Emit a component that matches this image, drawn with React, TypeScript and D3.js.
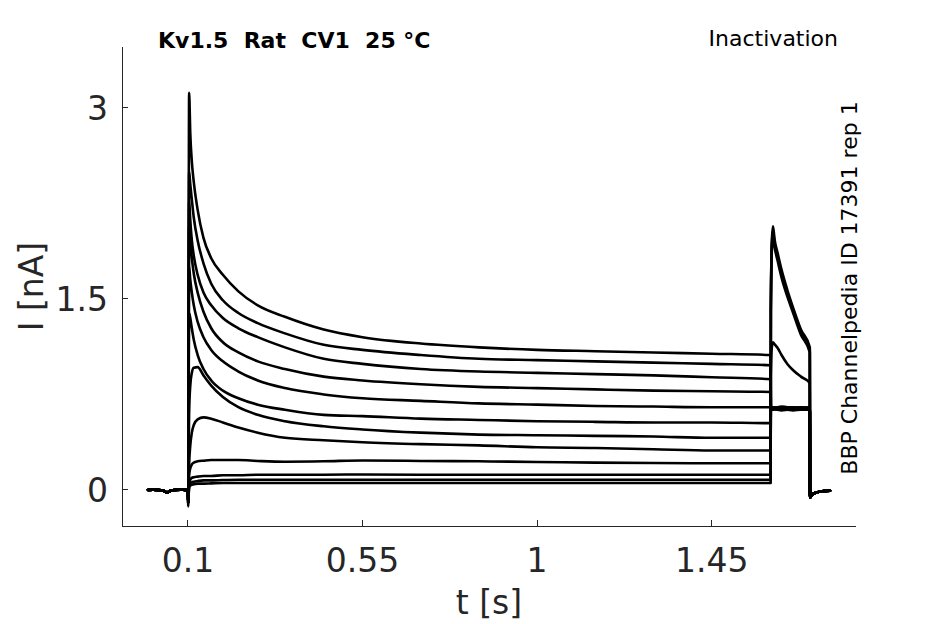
import React from "react";
import * as d3 from "d3";

// ---- time grids (s) ----
const PRE_T = [-0.003, 0.01, 0.03, 0.04, 0.046, 0.052, 0.065, 0.08, 0.095, 0.0995];
const PRE_I = [0, 0.003, -0.003, -0.01, -0.022, -0.01, 0, 0.003, 0, 0];

const STEP_T = [0.1, 0.1006, 0.103, 0.106, 0.11, 0.115, 0.125, 0.14, 0.16, 0.19, 0.23, 0.28, 0.35, 0.45, 0.55, 0.7, 0.85, 1.0, 1.15, 1.3, 1.45, 1.602];
const TEST_T = [1.6025, 1.605, 1.608, 1.612, 1.62, 1.63, 1.645, 1.66, 1.68, 1.703];
const TAIL_T = [1.7035, 1.704, 1.707, 1.712, 1.72, 1.735, 1.755];
const TAIL_I = [-0.06, -0.06, -0.045, -0.03, -0.02, -0.01, -0.005];

// ---- conditioning-step currents (nA), one array per sweep ----
const STEP_1 = [0, -0.13, 3.12, 2.8, 2.58, 2.42, 2.2, 1.98, 1.82, 1.69, 1.56, 1.45, 1.36, 1.26, 1.2, 1.15, 1.12, 1.1, 1.09, 1.08, 1.07, 1.06];
const STEP_2 = [0, -0.11, 2.5, 2.4, 2.28, 2.14, 1.96, 1.78, 1.62, 1.49, 1.39, 1.31, 1.23, 1.14, 1.1, 1.06, 1.03, 1.02, 1.01, 1.0, 0.99, 0.98];
const STEP_3 = [0, -0.1, 2.27, 2.12, 1.96, 1.84, 1.69, 1.55, 1.45, 1.35, 1.27, 1.2, 1.12, 1.03, 0.99, 0.95, 0.93, 0.92, 0.91, 0.9, 0.885, 0.87];
const STEP_4 = [0, -0.1, 2.07, 1.95, 1.82, 1.7, 1.55, 1.4, 1.27, 1.16, 1.08, 1.01, 0.95, 0.89, 0.86, 0.83, 0.81, 0.8, 0.79, 0.78, 0.775, 0.77];
const STEP_5 = [0, -0.1, 1.75, 1.65, 1.55, 1.45, 1.32, 1.2, 1.1, 1.01, 0.93, 0.86, 0.8, 0.75, 0.72, 0.7, 0.68, 0.67, 0.66, 0.655, 0.65, 0.65];
const STEP_6 = [0, -0.1, 1.39, 1.35, 1.27, 1.18, 1.06, 0.95, 0.86, 0.78, 0.72, 0.67, 0.63, 0.59, 0.58, 0.56, 0.55, 0.54, 0.535, 0.53, 0.53, 0.525];
const STEP_7 = [0, -0.1, 0.6, 0.82, 0.92, 0.96, 0.965, 0.9, 0.82, 0.73, 0.65, 0.59, 0.54, 0.5, 0.475, 0.45, 0.435, 0.43, 0.425, 0.42, 0.41, 0.41];
const STEP_8 = [0, -0.1, 0.2, 0.35, 0.45, 0.51, 0.555, 0.57, 0.56, 0.53, 0.49, 0.45, 0.41, 0.39, 0.375, 0.36, 0.35, 0.335, 0.33, 0.32, 0.31, 0.31];
const STEP_9 = [0, -0.1, 0.12, 0.17, 0.2, 0.215, 0.225, 0.23, 0.235, 0.235, 0.235, 0.228, 0.222, 0.225, 0.232, 0.228, 0.225, 0.22, 0.215, 0.212, 0.21, 0.21];
const STEP_10 = [0, -0.1, 0.05, 0.08, 0.095, 0.1, 0.105, 0.11, 0.11, 0.115, 0.115, 0.12, 0.12, 0.12, 0.122, 0.12, 0.12, 0.12, 0.12, 0.12, 0.12, 0.12];
const STEP_11 = [0, -0.1, 0.03, 0.05, 0.06, 0.065, 0.07, 0.075, 0.075, 0.078, 0.08, 0.08, 0.08, 0.08, 0.08, 0.08, 0.08, 0.08, 0.08, 0.08, 0.08, 0.08];
const STEP_12 = [0, -0.1, 0.02, 0.035, 0.04, 0.045, 0.05, 0.05, 0.052, 0.055, 0.055, 0.055, 0.055, 0.055, 0.055, 0.055, 0.055, 0.055, 0.055, 0.055, 0.055, 0.055];

// ---- test-pulse currents (nA) ----
const TEST_1 = [0.66, 0.64, 0.63, 0.635, 0.63, 0.635, 0.63, 0.625, 0.63, 0.63];
const TEST_2 = [0.66, 0.645, 0.645, 0.64, 0.645, 0.64, 0.645, 0.64, 0.645, 0.64];
const TEST_3 = [0.66, 0.64, 0.64, 0.645, 0.64, 0.64, 0.635, 0.64, 0.64, 0.64];
const TEST_4 = [0.66, 0.65, 0.65, 0.645, 0.65, 0.655, 0.65, 0.65, 0.645, 0.65];
const TEST_5 = [0.66, 0.635, 0.635, 0.64, 0.635, 0.63, 0.635, 0.64, 0.635, 0.635];
const TEST_6 = [0.66, 0.645, 0.645, 0.65, 0.645, 0.645, 0.64, 0.645, 0.65, 0.645];
const TEST_7 = [0.66, 0.64, 0.64, 0.635, 0.64, 0.645, 0.64, 0.635, 0.64, 0.64];
const TEST_8 = [0.66, 0.63, 0.63, 0.635, 0.63, 0.625, 0.63, 0.635, 0.63, 0.63];
const TEST_9 = [0.9, 1.12, 1.16, 1.145, 1.115, 1.06, 0.99, 0.94, 0.89, 0.84];
const TEST_10 = [1.4, 1.95, 2.07, 1.97, 1.86, 1.73, 1.57, 1.43, 1.26, 1.12];
const TEST_11 = [1.4, 1.92, 2.04, 1.94, 1.83, 1.7, 1.54, 1.41, 1.24, 1.1];
const TEST_12 = [1.4, 1.88, 2.0, 1.91, 1.8, 1.67, 1.52, 1.39, 1.22, 1.08];

const STEPS = [STEP_1, STEP_2, STEP_3, STEP_4, STEP_5, STEP_6, STEP_7, STEP_8, STEP_9, STEP_10, STEP_11, STEP_12];
const TESTS = [TEST_1, TEST_2, TEST_3, TEST_4, TEST_5, TEST_6, TEST_7, TEST_8, TEST_9, TEST_10, TEST_11, TEST_12];

const X_TICKS = [0.1, 0.55, 1, 1.45];
const X_TICK_LABELS = ["0.1", "0.55", "1", "1.45"];
const Y_TICKS = [0, 1.5, 3];
const Y_TICK_LABELS = ["0", "1.5", "3"];

const TITLE = "Kv1.5  Rat  CV1  25 °C";
const PROTOCOL = "Inactivation";
const SOURCE = "BBP Channelpedia ID 17391 rep 1";
const X_LABEL = "t [s]";
const Y_LABEL = "I [nA]";

const W = 945;
const H = 624;
const FONT = "'DejaVu Sans', sans-serif";
const AXIS_COLOR = "#262626";

export default function App() {
  const x = d3.scaleLinear().domain([-0.07, 1.822]).range([122, 856]);
  const y = d3.scaleLinear().domain([-0.283, 3.479]).range([526, 47]);

  const line = d3
    .line<[number, number]>()
    .x((d) => x(d[0]))
    .y((d) => y(d[1]))
    .curve(d3.curveMonotoneX);

  const traces = STEPS.map((step, k) => {
    const pts: [number, number][] = [];
    PRE_T.forEach((t, i) => pts.push([t, PRE_I[i]]));
    STEP_T.forEach((t, i) => pts.push([t, step[i]]));
    TEST_T.forEach((t, i) => pts.push([t, TESTS[k][i]]));
    TAIL_T.forEach((t, i) => pts.push([t, TAIL_I[i]]));
    return line(pts) as string;
  });

  const [x0, x1] = x.range();
  const [y0, y1] = y.range();

  return (
    <svg
      width={W}
      height={H}
      viewBox={`0 0 ${W} ${H}`}
      style={{ position: "absolute", left: 0, top: 0, background: "#fff", display: "block" }}
    >
      <rect x={0} y={0} width={W} height={H} fill="#fff" />
      {/* traces */}
      <g fill="none" stroke="#000" strokeWidth={2.6} strokeLinejoin="round" strokeLinecap="round">
        {traces.map((d, i) => (
          <path key={i} d={d} />
        ))}
      </g>
      {/* axes */}
      <g stroke={AXIS_COLOR} strokeWidth={1} fill="none" shapeRendering="crispEdges">
        <line x1={x0} y1={y0} x2={x1} y2={y0} />
        <line x1={x0} y1={y0} x2={x0} y2={y1} />
        {X_TICKS.map((t) => (
          <line key={t} x1={x(t)} x2={x(t)} y1={y0} y2={y0 - 6} />
        ))}
        {Y_TICKS.map((t) => (
          <line key={t} x1={x0} x2={x0 + 6} y1={y(t)} y2={y(t)} />
        ))}
      </g>
      <g fontFamily={FONT} fontSize={33} fill={AXIS_COLOR}>
        {X_TICKS.map((t, i) => (
          <text key={t} x={x(t)} y={572} textAnchor="middle">
            {X_TICK_LABELS[i]}
          </text>
        ))}
        {Y_TICKS.map((t, i) => (
          <text key={t} x={108} y={y(t) + 12} textAnchor="end">
            {Y_TICK_LABELS[i]}
          </text>
        ))}
        <text x={(x0 + x1) / 2} y={614} textAnchor="middle">
          {X_LABEL}
        </text>
        <text transform={`translate(43, ${(y0 + y1) / 2}) rotate(-90)`} textAnchor="middle">
          {Y_LABEL}
        </text>
      </g>
      <text
        x={158}
        y={48}
        fontFamily={FONT}
        fontSize={22}
        fontWeight="bold"
        fill="#000"
        style={{ whiteSpace: "pre" }}
      >
        {TITLE}
      </text>
      <text x={838} y={46} fontFamily={FONT} fontSize={22} fill="#000" textAnchor="end">
        {PROTOCOL}
      </text>
      <text
        transform={`translate(857, 288) rotate(-90)`}
        fontFamily={FONT}
        fontSize={22}
        fill="#000"
        textAnchor="middle"
      >
        {SOURCE}
      </text>
    </svg>
  );
}
